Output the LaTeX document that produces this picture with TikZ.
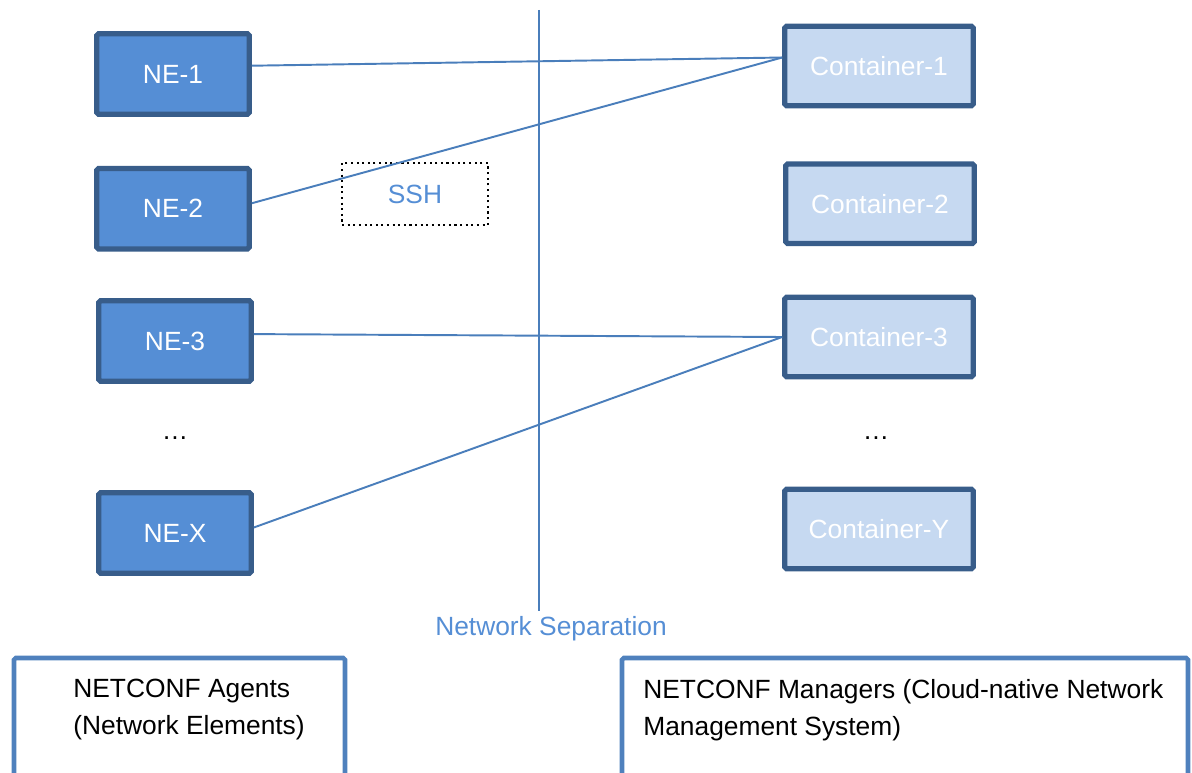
\documentclass[tikz,border=0pt]{standalone}
\usepackage{fontspec}
\setmainfont{Liberation Sans}
\usetikzlibrary{positioning}

\definecolor{neblue}{RGB}{85,142,213}
\definecolor{nedark}{RGB}{56,93,138}
\definecolor{ctlight}{RGB}{198,217,241}
\definecolor{lineblue}{RGB}{74,126,187}
\definecolor{groupblue}{RGB}{79,129,189}

\begin{document}
\begin{tikzpicture}[x=0.02cm, y=-0.02cm,
    every node/.style={font=\fontsize{15}{21}\selectfont},
    ne/.style={rectangle, minimum width=3.05cm, minimum height=1.61cm, fill=neblue, draw=nedark, line width=3pt, rounded corners=1pt, text=white},
    container/.style={rectangle, minimum width=3.77cm, minimum height=1.59cm, fill=ctlight, draw=nedark, line width=3pt, rounded corners=1pt, text=white},
    link/.style={draw=lineblue, line width=1.1pt},
    group/.style={draw=groupblue, line width=2.6pt, rounded corners=1pt},
    grouptext/.style={align=left, inner sep=0pt, anchor=north west}]
    \clip (0,0) rectangle (1192,773);

    \node [ne] (ne1) at (173,74) {NE-1};
    \node [ne, below=0.98cm of ne1] (ne2) {NE-2};
    \node [ne] (ne3) at (175,341) {NE-3};
    \node (nedots) at (175,438) {…};
    \node [ne] (nex) at (175,533) {NE-X};

    \node [container] (container1) at (879,66) {Container-1};
    \node [container, below=1.06cm of container1, xshift=0.02cm] (container2) {Container-2};
    \node [container] (container3) at (879,337) {Container-3};
    \node (containerdots) at (876,438) {…};
    \node [container] (containery) at (879,529) {Container-Y};

    \node [rectangle, draw=black, dotted, line width=1.2pt, minimum width=2.92cm, minimum height=1.24cm, text=neblue] (ssh) at (415,194) {SSH};

    \node [text=neblue] (separation) at (551,629) {Network Separation};
    \coordinate (septop) at (539,10);
    \draw [link] (septop) -- (septop |- separation.north);

    \draw [link] (ne1.6) -- (container1.175);
    \draw [link] (ne2.4) -- (container1.175);
    \draw [link] (ne3.5) -- (container3.west);
    \draw [link] (nex.4) -- (container3.west);

    % groups at the bottom
    \draw [group] (14,658) rectangle (345,800);
    \node [grouptext] (agents) at (73,679) {NETCONF Agents\\(Network Elements)};
    \draw [group] (622,658) rectangle (1188,800);
    \node [grouptext] (managers) at (643,679) {NETCONF Managers (Cloud-native Network\\Management System)};
\end{tikzpicture}
\end{document}
